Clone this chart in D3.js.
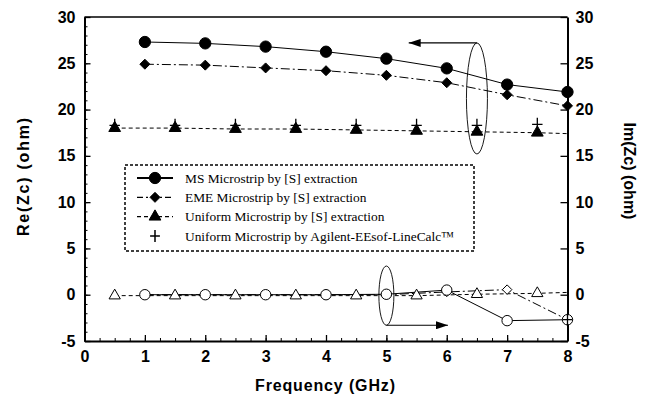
<!DOCTYPE html>
<html lang="en">
<head>
<meta charset="UTF-8">
<title>Zc vs frequency</title>
<style>
	body { margin: 0; background: #fff; }
	.tick text { font-family: "Liberation Sans", Arial, sans-serif; font-weight: bold; font-size: 16px; fill: #000; }
	.title { font-family: "Liberation Sans", Arial, sans-serif; font-weight: bold; font-size: 16px; }
	.legend text { font-family: "Liberation Serif", "Times New Roman", serif; font-size: 13.4px; }
</style>
<script src="https://cdnjs.cloudflare.com/ajax/libs/d3/7.8.5/d3.min.js"></script>
</head>
<body>
<script type="text/javascript">
	// frequency points (GHz)
	const freq = [1, 2, 3, 4, 5, 6, 7, 8];
	const freqUniform = [0.5, 1.5, 2.5, 3.5, 4.5, 5.5, 6.5, 7.5, 8];

	// real part of Zc (ohm)
	const msRe = [27.3, 27.15, 26.8, 26.25, 25.5, 24.45, 22.7, 21.9];
	const emeRe = [24.9, 24.8, 24.5, 24.2, 23.7, 22.9, 21.6, 20.4];
	const uniformRe = [18.0, 18.0, 17.9, 17.9, 17.8, 17.7, 17.6, 17.5, 17.4];
	const lineCalcRe = [18.3, 18.3, 18.3, 18.3, 18.3, 18.3, 18.3, 18.4];

	// imaginary part of Zc (ohm)
	const msIm = [0, 0, 0, 0, 0.05, 0.5, -2.8, -2.7];
	const emeIm = [0, 0, 0, 0, 0, 0.3, 0.55, -2.7];
	const uniformIm = [-0.1, -0.1, -0.1, -0.1, -0.1, -0.1, 0.05, 0.15, 0.25];

	const xTicks = [0, 1, 2, 3, 4, 5, 6, 7, 8];
	const yTicks = [-5, 0, 5, 10, 15, 20, 25, 30];

	const legendLabels = [
		"MS Microstrip by [S] extraction",
		"EME Microstrip by [S] extraction",
		"Uniform Microstrip by [S] extraction",
		"Uniform Microstrip by Agilent-EEsof-LineCalc\u2122"
	];

	const width = 650, height = 395;
	const svg = d3.select("body").append("svg")
		.attr("width", width)
		.attr("height", height);

	const x = d3.scaleLinear().domain([0, 8]).range([84.5, 567.5]);
	const y = d3.scaleLinear().domain([-5, 30]).range([341, 17]);
	const plain = d => String(d); // hyphen minus, like the original

	// minor ticks
	svg.append("g")
		.attr("transform", "translate(0,341)")
		.call(d3.axisBottom(x).tickValues(d3.range(0, 8.01, 0.25)).tickSize(-3).tickSizeOuter(0).tickFormat(""))
		.call(g => g.select(".domain").remove());
	svg.append("g")
		.attr("transform", "translate(84.5,0)")
		.call(d3.axisLeft(y).tickValues(d3.range(-5, 30.01, 1)).tickSize(-3).tickSizeOuter(0).tickFormat(""))
		.call(g => g.select(".domain").remove());

	// major axes
	const axB = svg.append("g")
		.attr("transform", "translate(0,341)")
		.call(d3.axisBottom(x).tickValues(xTicks).tickSize(-6).tickSizeOuter(0).tickPadding(10).tickFormat(plain));
	const axL = svg.append("g")
		.attr("transform", "translate(84.5,0)")
		.call(d3.axisLeft(y).tickValues(yTicks).tickSize(-6).tickSizeOuter(0).tickPadding(9).tickFormat(plain));
	const axR = svg.append("g")
		.attr("transform", "translate(567.5,0)")
		.call(d3.axisRight(y).tickValues(yTicks).tickSize(-7).tickSizeOuter(0).tickPadding(8).tickFormat(plain));
	[axB, axL, axR].forEach(g => {
		g.select(".domain").attr("stroke-width", 2);
		g.selectAll(".tick line").attr("stroke-width", 1.3);
	});
	svg.selectAll(".tick line").attr("stroke", "#000");

	// top frame
	svg.append("line")
		.attr("x1", x(0)).attr("x2", x(8))
		.attr("y1", y(30)).attr("y2", y(30))
		.attr("stroke", "#000").attr("stroke-width", 1.5);

	// axis titles
	svg.append("text").attr("class", "title")
		.attr("transform", "translate(29,177) rotate(-90)")
		.attr("text-anchor", "middle")
		.attr("textLength", 118)
		.text("Re(Zc) (ohm)");
	svg.append("text").attr("class", "title")
		.attr("transform", "translate(624,171) rotate(90)")
		.attr("text-anchor", "middle")
		.text("Im(Zc) (ohm)");
	svg.append("text").attr("class", "title")
		.attr("x", 325).attr("y", 391)
		.attr("text-anchor", "middle")
		.attr("textLength", 140)
		.text("Frequency (GHz)");

	const dashDot = "9,3,2,3";
	const dashed = "4,3";

	function drawLine(xs, ys, dash) {
		svg.append("path")
			.datum(xs.map((v, i) => [v, ys[i]]))
			.attr("fill", "none")
			.attr("stroke", "#000")
			.attr("stroke-width", 1)
			.attr("stroke-dasharray", dash)
			.attr("d", d3.line().x(d => x(d[0])).y(d => y(d[1])));
	}

	const plusSymbol = {
		draw(ctx, size) {
			const r = Math.sqrt(size) / 2;
			ctx.moveTo(-r * 0.8, 0); ctx.lineTo(r * 0.8, 0);
			ctx.moveTo(0, -r); ctx.lineTo(0, r);
		}
	};
	// square turned 45 degrees, as wide as it is tall
	const diamondSymbol = {
		draw(ctx, size) {
			const r = Math.sqrt(size) / 2;
			ctx.moveTo(0, -r); ctx.lineTo(r, 0); ctx.lineTo(0, r); ctx.lineTo(-r, 0); ctx.closePath();
		}
	};

	function drawMarks(xs, ys, type, size, filled) {
		svg.append("g").selectAll("path")
			.data(xs.map((v, i) => [v, ys[i]]))
			.join("path")
			.attr("transform", d => `translate(${x(d[0])},${y(d[1])})`)
			.attr("d", d3.symbol().type(type).size(size))
			.attr("fill", filled ? "#000" : (type === plusSymbol ? "none" : "#fff"))
			.attr("stroke", "#000")
			.attr("stroke-width", type === plusSymbol ? 1.3 : 1);
	}

	// imaginary part (right axis, open markers)
	drawLine(freqUniform, uniformIm, dashed);
	drawLine(freq, emeIm, dashDot);
	drawLine(freq, msIm, null);
	drawMarks(freqUniform.slice(0, 8), uniformIm, d3.symbolTriangle, 55, false);
	drawMarks(freq, emeIm, diamondSymbol, 90, false);
	drawMarks(freq, msIm, d3.symbolCircle, 85, false);
	// crossing mark at the last point
	drawMarks([8], [msIm[7]], plusSymbol, 144, false);

	// real part (left axis, filled markers)
	drawLine(freqUniform, uniformRe, dashed);
	drawLine(freq, emeRe, dashDot);
	drawLine(freq, msRe, null);
	drawMarks(freqUniform.slice(0, 8), uniformRe, d3.symbolTriangle, 60, true);
	drawMarks(freqUniform.slice(0, 8), lineCalcRe, plusSymbol, 170, false);
	drawMarks(freq, emeRe, diamondSymbol, 100, true);
	drawMarks(freq, msRe, d3.symbolCircle, 100, true);

	// arrow marker
	svg.append("defs").append("marker")
		.attr("id", "arrow")
		.attr("viewBox", "0 0 12 8")
		.attr("refX", 12).attr("refY", 4)
		.attr("markerWidth", 12).attr("markerHeight", 8)
		.attr("markerUnits", "userSpaceOnUse")
		.attr("orient", "auto")
		.append("path").attr("d", "M0,0L12,4L0,8Z").attr("fill", "#000");

	// ellipse + arrow pointing to the axis each group belongs to
	const callouts = [
		{ cx: 6.5, lo: 15.2, hi: 27.2, rx: 10.5, from: 27.2, to: 5.37 },
		{ cx: 5, lo: -3.3, hi: 3.1, rx: 7.5, from: -3.3, to: 6.02 }
	];
	callouts.forEach(c => {
		svg.append("ellipse")
			.attr("cx", x(c.cx)).attr("cy", (y(c.lo) + y(c.hi)) / 2)
			.attr("rx", c.rx).attr("ry", (y(c.lo) - y(c.hi)) / 2)
			.attr("fill", "none").attr("stroke", "#000").attr("stroke-width", 0.9);
		svg.append("line")
			.attr("x1", x(c.cx)).attr("y1", y(c.from))
			.attr("x2", x(c.to)).attr("y2", y(c.from))
			.attr("stroke", "#000").attr("stroke-width", 1.2)
			.attr("marker-end", "url(#arrow)");
	});

	// legend
	const legend = svg.append("g").attr("class", "legend");
	legend.append("rect")
		.attr("x", 125).attr("y", 165)
		.attr("width", 349).attr("height", 86)
		.attr("fill", "#fff").attr("stroke", "#000")
		.attr("stroke-width", 1.5).attr("stroke-dasharray", "3,2");

	const legendStyle = [
		{ dash: null, type: d3.symbolCircle, size: 100, line: true },
		{ dash: "6,3,2,3", type: diamondSymbol, size: 100, line: true },
		{ dash: "4,3", type: d3.symbolTriangle, size: 60, line: true },
		{ dash: null, type: plusSymbol, size: 150, line: false }
	];
	const rowY = d3.scalePoint().domain(legendLabels).range([178, 236]);
	legendLabels.forEach((lab, i) => {
		const s = legendStyle[i];
		const yy = rowY(lab);
		if (s.line) {
			legend.append("line")
				.attr("x1", 137).attr("x2", 173).attr("y1", yy).attr("y2", yy)
				.attr("stroke", "#000").attr("stroke-width", i === 0 ? 2 : 1.3)
				.attr("stroke-dasharray", s.dash);
		}
		legend.append("path")
			.attr("transform", `translate(155,${yy})`)
			.attr("d", d3.symbol().type(s.type).size(s.size))
			.attr("fill", s.line ? "#000" : "none")
			.attr("stroke", "#000")
			.attr("stroke-width", s.line ? 1 : 1.5);
		legend.append("text")
			.attr("x", 185).attr("y", yy)
			.attr("dy", "0.35em")
			.text(lab);
	});
</script>
</body>
</html>
